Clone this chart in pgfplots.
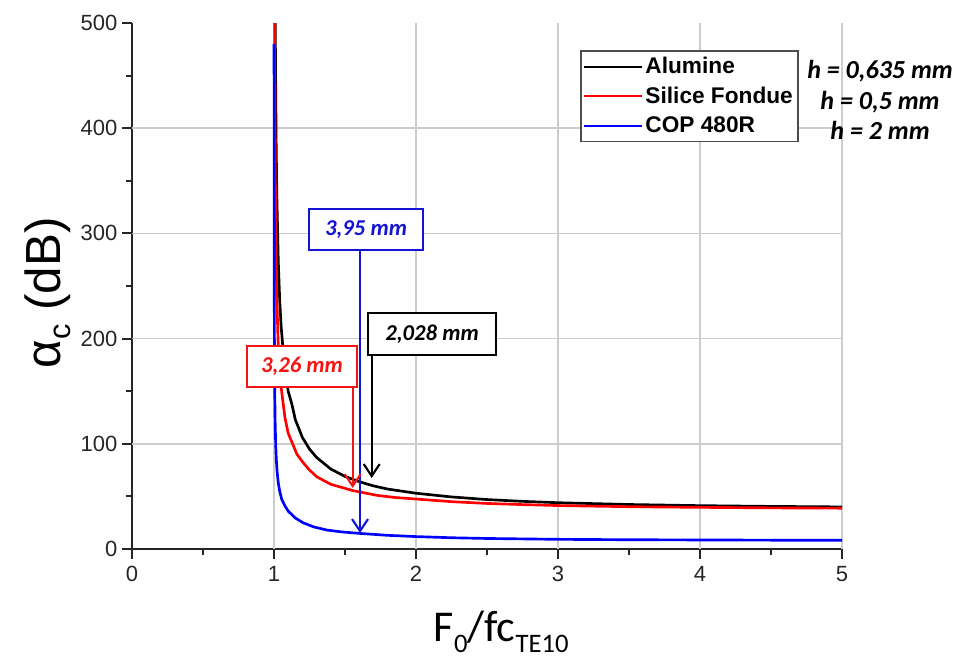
\documentclass[border=0pt]{standalone}
\usepackage{fontspec}
\setmainfont{Liberation Sans}
\newfontfamily\carlito{Carlito}
\usepackage{pgfplots}
\pgfplotsset{compat=1.18}
\usetikzlibrary{arrows.meta}
\definecolor{gridgray}{RGB}{205,205,205}
\definecolor{cblue}{RGB}{0,0,255}
\definecolor{cred}{RGB}{255,0,0}
\definecolor{annblue}{RGB}{20,20,215}
\definecolor{annred}{RGB}{245,20,20}

\begin{document}
\begin{tikzpicture}
\path[use as bounding box] (-99pt,-83.25pt) rectangle (617.25pt,411.75pt);
\begin{axis}[
  at={(0,0)}, anchor=south west,
  scale only axis, width=532.5pt, height=394.5pt,
  xmin=0, xmax=5, ymin=0, ymax=500,
  clip mode=individual,
  axis x line*=bottom, axis y line*=left,
  axis line style={line width=1.6pt, color=black!85},
  xtick={0,1,2,3,4,5}, ytick={0,100,200,300,400,500},
  minor x tick num=1, minor y tick num=1,
  tick align=outside, major tick length=7.5pt, minor tick length=4.5pt,
  xtick style={line width=1.4pt, color=black!85},
  ytick style={line width=1.4pt, color=black!85},
  extra x ticks={1,2,3,4,5}, extra y ticks={100,200,300,400},
  extra x tick labels={}, extra y tick labels={},
  extra tick style={grid=major},
  grid style={line width=1.1pt, color=gridgray},
  tick label style={font=\fontsize{16.5}{18}\selectfont, color=black!85},
  xticklabel style={yshift=-2pt},
  /pgf/number format/assume math mode=true,
  xlabel={{\carlito F\raisebox{-0.25em}{\fontsize{20}{20}\selectfont 0}/fc\raisebox{-0.25em}{\fontsize{20}{20}\selectfont TE10}}},
  xlabel style={font=\fontsize{33}{36}\selectfont, at={(axis description cs:0.52,-0.157)}, anchor=center},
  ylabel={α\raisebox{-0.2em}{\fontsize{23}{23}\selectfont c} (dB)},
  ylabel style={font=\fontsize{37}{40}\selectfont, at={(axis description cs:-0.118,0.487)}, anchor=center},
  legend style={at={(axis cs:3.155,474.3)}, anchor=north west, draw=black!70, line width=1.2pt,
    font=\fontsize{17}{20}\selectfont\bfseries, inner xsep=2pt, inner ysep=3pt, row sep=4.5pt},
  legend cell align=left,
  legend image code/.code={\draw[#1, line width=1.5pt] (0pt,0pt) -- (43pt,0pt);},
]
\addplot[black, line width=2pt, line join=round] coordinates {
(1.006,610) (1.008,530) (1.010,475) (1.015,388) (1.02,336) (1.03,274) (1.04,237) (1.05,212)
(1.07,180) (1.1,150) (1.127,137) (1.15,123) (1.2,106) (1.25,95) (1.3,87) (1.4,76) (1.5,69)
(1.6,64) (1.7,60) (1.8,57) (2,53) (2.25,49.5) (2.5,47) (2.75,45.3) (3,44) (3.5,42.3)
(4,41.2) (4.5,40.5) (5,40)
};
\addlegendentry{Alumine}
\addplot[cred, line width=2pt, line join=round] coordinates {
(1.004,560) (1.005,500) (1.007,420) (1.01,345) (1.015,280) (1.02,240) (1.028,200) (1.04,170)
(1.05,154) (1.077,125) (1.1,110) (1.162,90) (1.2,83) (1.25,75) (1.303,68.5) (1.4,61.5)
(1.556,55.5) (1.725,51) (1.85,49) (2,47.5) (2.25,45) (2.5,43.3) (2.75,42.2) (3,41.3)
(3.5,40.2) (4,39.6) (4.5,39.1) (5,38.8)
};
\addlegendentry{Silice Fondue}
\addplot[cblue, line width=2pt, line join=round] coordinates {
(1.0005,480) (1.0008,380) (1.0012,310) (1.002,240) (1.003,196) (1.005,152) (1.008,121)
(1.012,99) (1.016,86) (1.021,75) (1.03,63) (1.04,55) (1.055,47) (1.077,41) (1.1,36)
(1.15,29.5) (1.204,25) (1.28,21) (1.373,18) (1.48,16.2) (1.606,14.8) (1.8,13) (2,11.8)
(2.25,10.7) (2.5,10) (3,9.2) (3.5,8.8) (4,8.6) (4.5,8.4) (5,8.3)
};
\addlegendentry{COP 480R}

% annotation arrows
\draw[annblue, line width=1.6pt, -{Straight Barb[length=9pt,width=12pt,line width=1.6pt]}]
  (axis cs:1.606,284.2) -- (axis cs:1.606,15.2);
\draw[black, line width=1.6pt, -{Straight Barb[length=9pt,width=12pt,line width=1.6pt]}]
  (axis cs:1.688,184.4) -- (axis cs:1.688,67.5);
\draw[annred, line width=1.6pt, -{Straight Barb[length=9pt,width=12pt,line width=1.6pt]}]
  (axis cs:1.554,154.0) -- (axis cs:1.554,58.0);

\node[draw=annblue, line width=1.4pt, fill=white, text=annblue, inner sep=0pt,
  minimum width=85.5pt, minimum height=31pt,
  font=\carlito\bfseries\itshape\fontsize{17}{18}\selectfont] at (axis cs:1.648,303.7) {3,95 mm};
\node[draw=black, line width=1.4pt, fill=white, text=black, inner sep=0pt,
  minimum width=96pt, minimum height=31.5pt,
  font=\carlito\bfseries\itshape\fontsize{17}{18}\selectfont] at (axis cs:2.113,204.4) {2,028 mm};
\node[draw=annred, line width=1.4pt, fill=white, text=annred, inner sep=0pt,
  minimum width=82.5pt, minimum height=31pt,
  font=\carlito\bfseries\itshape\fontsize{17}{18}\selectfont] at (axis cs:1.197,173.5) {3,26 mm};

\node[font=\carlito\bfseries\itshape\fontsize{19.5}{20}\selectfont] at (axis cs:5.268,453.9) {h = 0,635 mm};
\node[font=\carlito\bfseries\itshape\fontsize{19.5}{20}\selectfont] at (axis cs:5.268,425.2) {h = 0,5 mm};
\node[font=\carlito\bfseries\itshape\fontsize{19.5}{20}\selectfont] at (axis cs:5.268,398.3) {h = 2 mm};
\end{axis}
\end{tikzpicture}
\end{document}
